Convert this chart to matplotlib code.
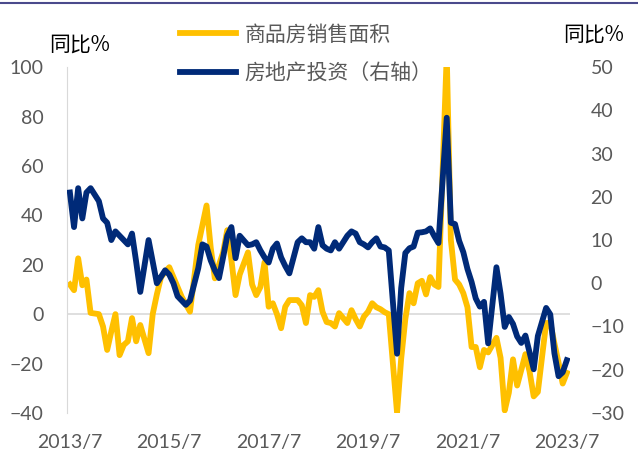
# Import libraries
import numpy as np
import pandas as pd
import matplotlib.pyplot as plt
from matplotlib.lines import Line2D

plt.rcParams['font.family'] = ['Noto Sans CJK SC', 'DejaVu Sans']

# Monthly data 2013/7 - 2023/7 (January not published -> nan)
months = pd.date_range('2013-07-01', '2023-07-01', freq='MS')
tick_labels = ['2013/7', '2015/7', '2017/7', '2019/7', '2021/7', '2023/7']

# 商品房销售面积 当月同比 (left axis)
sales_area = [
    12, 9.7, 22.6, 11.7, 14, 0.5,
    np.nan, 0, -5, -14.5, -7, 0, -16.6, -12.5, -11, -1.6, -11, -4.4,
    np.nan, -15.8, 0, 8, 15, 17, 19, 15, 11, 7, 4, 1,
    np.nan, 28, 36, 44, 27, 14.5, 20, 25, 34, 22, 7.7, 16,
    np.nan, 25, 12, 7.7, 11, 21, 3, 4.4, 0, -5.7, 3, 5.7,
    np.nan, 5.7, 3.6, -3.6, 7.7, 7, 9.7, 1, -3.2, -3.6, -5, 0.4,
    np.nan, -3.6, 1.6, -2, -5, -1, 1, 4.4, 2.8, 2, 0.8, 0,
    np.nan, -39.9, -18, -2, 8.5, 4.4, 12.5, 13.5, 8, 15, 12, 11,
    np.nan, 104.9, 30, 14, 12, 8.5, 2.8, -13.3, -13.3, -21.5, -14.5, -15.5,
    np.nan, -9.6, -17.7, -39, -31.8, -18.3, -28.9, -22.6, -16.2, -23.2, -33.3, -31.5,
    np.nan, -3.6, -3.5, -11.8, -19.7, -28.1, -23.8,
]

# 房地产投资 当月同比 (right axis)
investment = [
    21, 13, 22, 15, 21, 22,
    np.nan, 19, 15, 14, 10, 12, 11, 10, 9, 11.5, 5, -2,
    np.nan, 10, 5, 0, 1.5, 3, 2, 0, -3, -4, -5, -4,
    np.nan, 3.5, 9, 8.5, 5.3, 3, 1.2, 6, 11, 13, 5.8, 11,
    np.nan, 8.8, 9, 9.5, 7.6, 6, 4.8, 8, 9.2, 6, 4, 2.3,
    np.nan, 9.5, 10.4, 9.5, 9.5, 8, 13, 8.8, 8, 7.6, 9.5, 8,
    np.nan, 11, 12, 11.5, 9.5, 9, 8.3, 9.5, 10.4, 8.5, 8.3, 7.6,
    np.nan, -16.3, -1.1, 7.0, 8.1, 8.5, 11.7, 11.8, 12.0, 12.7, 10.9, 9.3,
    np.nan, 38.3, 14, 13.7, 9.8, 7.2, 3.3, 0.3, -3.5, -5.4, -4.3, -13.9,
    np.nan, 3.7, -2.4, -10.1, -7.8, -9.4, -12.3, -13.8, -12.1, -16.0, -19.9, -12.2,
    np.nan, -5.7, -7.2, -16.2, -21.5, -20.6, -17.8,
]

yellow = '#FFC000'
navy = '#002A78'
grey = '#595959'

df = pd.DataFrame({'sales': sales_area, 'inv': investment}, index=months)
df['x'] = np.arange(len(df))
s = df.dropna(subset=['sales'])
v = df.dropna(subset=['inv'])

fig = plt.figure(figsize=(6.38, 4.73), dpi=100)
ax = fig.add_axes([0.105, 0.127, 0.788, 0.731])
ax2 = ax.twinx()

ax.axhline(0, color='#D9D9D9', lw=1.2, zorder=0)
l1, = ax.plot(s['x'], s['sales'], color=yellow, lw=4.2, solid_joinstyle='round')
l2, = ax2.plot(v['x'], v['inv'], color=navy, lw=4.2, solid_joinstyle='round')

ax.set_xlim(-0.7, len(df) - 0.3)
ax.set_ylim(-40, 100)
ax.set_yticks(range(-40, 101, 20))
ax2.set_ylim(-30, 50)
ax2.set_yticks(range(-30, 51, 10))
ax.set_xticks(df['x'].iloc[::24])
ax.set_xticklabels(tick_labels)

for a in (ax, ax2):
    for side in ['top', 'right', 'bottom', 'left']:
        a.spines[side].set_visible(False)
    a.tick_params(length=0, labelsize=14, labelcolor=grey)
    for lab in a.get_xticklabels() + a.get_yticklabels():
        lab.set_family('Lato')
ax.spines['left'].set_visible(True)
ax.spines['left'].set_color('#D9D9D9')
ax.tick_params(axis='y', pad=17)
ax.tick_params(axis='x', pad=15)
ax2.tick_params(axis='y', pad=15)

fig.text(0.124, 1 - 45 / 473, '同比%', ha='center', va='center', fontsize=15)
fig.text(0.931, 1 - 35 / 473, '同比%', ha='center', va='center', fontsize=15)

fig.legend([l1, l2], ['商品房销售面积', '房地产投资（右轴）'],
           loc='upper left', bbox_to_anchor=(0.282, 0.95), frameon=False,
           fontsize=15, labelcolor=grey, handlelength=2.7, handletextpad=0.4,
           labelspacing=0.8, borderpad=0, borderaxespad=0)

fig.add_artist(Line2D([0, 1], [0.993, 0.993], color='#4B4A8C', lw=1.5))

fig.savefig('out.png', dpi=100)
